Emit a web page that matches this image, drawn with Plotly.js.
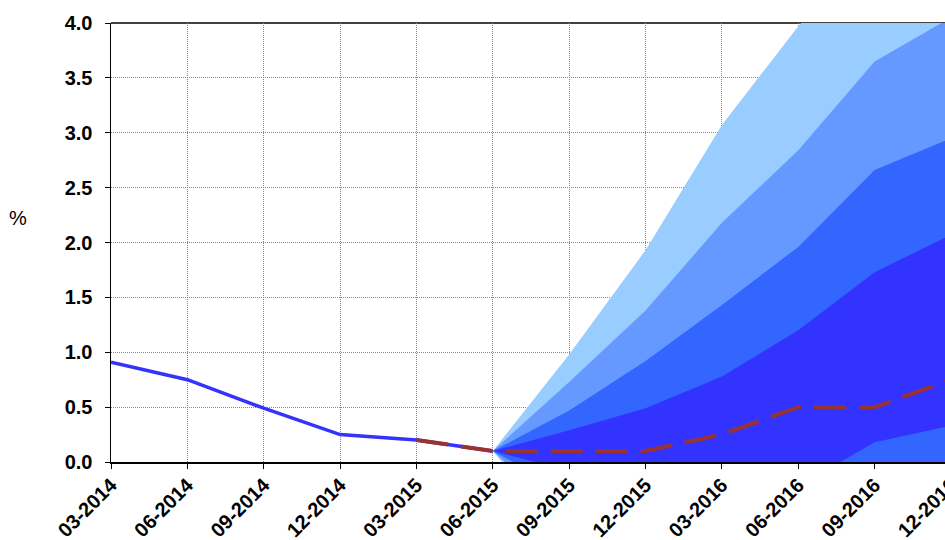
<!DOCTYPE html>
<html>
<head>
<meta charset="utf-8">
<script src="https://cdn.plot.ly/plotly-3.0.1.min.js"></script>
<style>
html,body{margin:0;padding:0;overflow:hidden;background:#fff;}
#chart{width:960px;height:540px;}
</style>
</head>
<body>
<div id="chart"></div>
<script>
// Quarter labels (x positions are their index)
const quarters = ["03-2014","06-2014","09-2014","12-2014","03-2015","06-2015",
                  "09-2015","12-2015","03-2016","06-2016","09-2016","12-2016"];

// Historical rate (03-2014 .. 06-2015)
const histIdx = [0,1,2,3,4,5];
const histVal = [0.91,0.75,0.49,0.25,0.20,0.10];

// Central projection (03-2015 .. 12-2016)
const projIdx = [4,5,6,7,8,9,10,11];
const projVal = [0.20,0.10,0.10,0.10,0.25,0.50,0.50,0.75];

// Fan bands (06-2015 .. 12-2016), outer to inner
const fanIdx = [5,6,7,8,9,10,11];
const band4Upper = [0.10,0.98,1.93,3.07,3.97,4.80,5.50];
const band4Lower = [0.10,-0.74,-1.40,-1.90,-2.00,-2.00,-1.90];
const band3Upper = [0.10,0.73,1.38,2.18,2.84,3.65,4.05];
const band3Lower = [0.10,-0.53,-1.00,-1.40,-1.50,-1.40,-1.30];
const band2Upper = [0.10,0.47,0.92,1.43,1.96,2.66,2.95];
const band2Lower = [0.10,-0.28,-0.60,-0.80,-0.80,-0.80,-0.70];
const band1Upper = [0.10,0.29,0.49,0.78,1.20,1.73,2.07];
const band1Lower = [0.10,-0.08,-0.30,-0.30,-0.22,0.18,0.33];

const bandColors = ["#99CCFF","#6699FF","#3366FF","#3333FF"];

function band(upper, lower, color){
  const xs = fanIdx.concat(fanIdx.slice().reverse());
  const ys = upper.concat(lower.slice().reverse());
  return {x: xs, y: ys, type:"scatter", mode:"lines", fill:"toself",
          fillcolor: color, line:{width:0, color: color}, hoverinfo:"skip", showlegend:false};
}

const traces = [
  band(band4Upper, band4Lower, bandColors[0]),
  band(band3Upper, band3Lower, bandColors[1]),
  band(band2Upper, band2Lower, bandColors[2]),
  band(band1Upper, band1Lower, bandColors[3]),
  {x: histIdx, y: histVal, type:"scatter", mode:"lines",
   line:{color:"#3333FF", width:3.5}, showlegend:false, hoverinfo:"skip"},
  {x: projIdx, y: projVal, type:"scatter", mode:"lines",
   line:{color:"#993333", width:4, dash:"32px,13px"}, showlegend:false, hoverinfo:"skip"}
];

const tickFont = {family:"Liberation Sans, Arial, sans-serif", size:20, color:"#000", weight:"bold"};

const layout = {
  width:960, height:540,
  margin:{l:111, r:9, t:23, b:78},
  paper_bgcolor:"#fff", plot_bgcolor:"#fff",
  showlegend:false,
  hovermode:false,
  xaxis:{
    type:"linear", range:[0,11], tickmode:"array",
    tickvals: quarters.map((q,i)=>i), ticktext: quarters,
    tickangle:-45, tickfont: tickFont, automargin:false,
    ticklabeloverflow:"allow", ticklabelstandoff:-3,
    ticks:"outside", ticklen:5, tickwidth:1, tickcolor:"#000",
    showline:true, linecolor:"#000", linewidth:1.5,
    showgrid:true, gridcolor:"#888", griddash:"1px,1px", gridwidth:1,
    zeroline:false, fixedrange:true
  },
  yaxis:{
    range:[0,4], tickvals:[0,0.5,1,1.5,2,2.5,3,3.5,4],
    ticktext:["0.0","0.5","1.0","1.5","2.0","2.5","3.0","3.5","4.0"],
    tickfont: tickFont, automargin:false,
    ticks:"outside", ticklen:5, tickwidth:1, tickcolor:"#000",
    ticklabelstandoff:8,
    showline:true, linecolor:"#000", linewidth:1.5,
    showgrid:true, gridcolor:"#888", griddash:"1px,1px", gridwidth:1,
    zeroline:false, fixedrange:true
  },
  shapes:[
    {type:"line", xref:"paper", yref:"paper", x0:0, x1:1, y0:1, y1:1,
     line:{color:"#000", width:1.5}, layer:"below"}
  ],
  annotations:[
    {text:"%", xref:"paper", yref:"paper", x:(18-111)/840, y:(462-218)/439,
     xanchor:"center", yanchor:"middle", showarrow:false,
     font:{family:"Liberation Sans, Arial, sans-serif", size:20, color:"#000"}}
  ]
};

Plotly.newPlot("chart", traces, layout, {displayModeBar:false, staticPlot:true});
</script>
</body>
</html>
